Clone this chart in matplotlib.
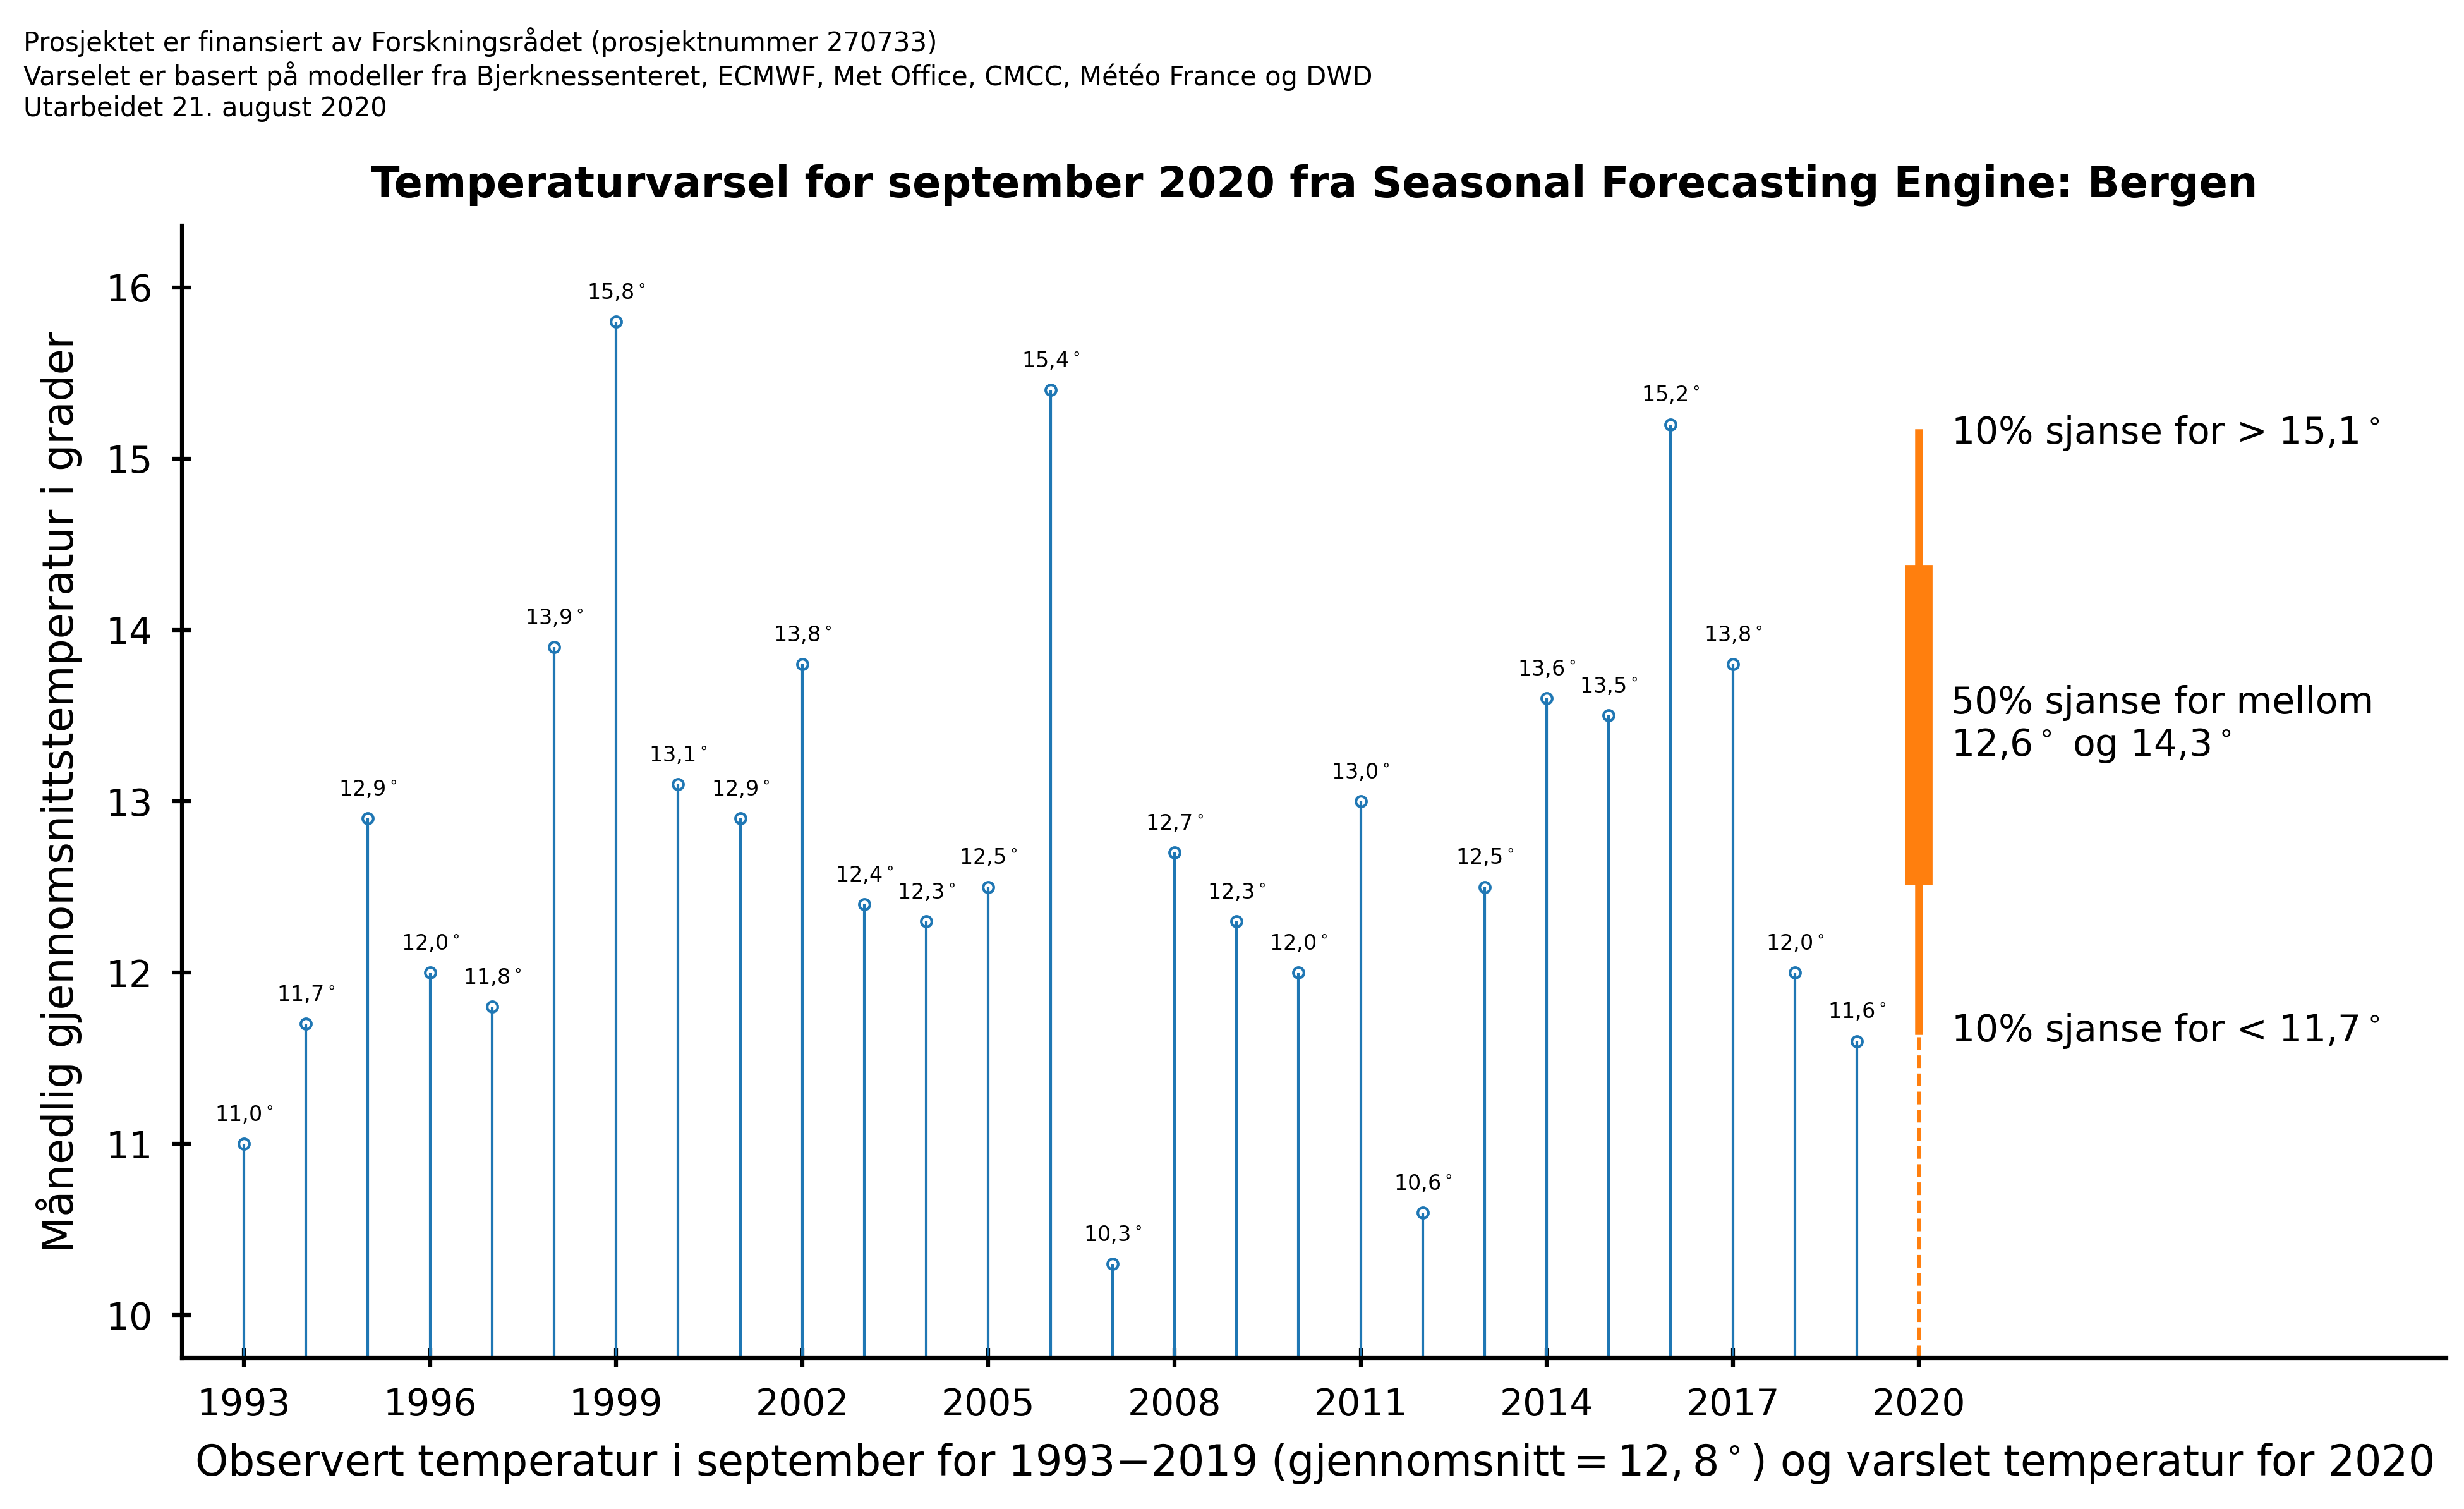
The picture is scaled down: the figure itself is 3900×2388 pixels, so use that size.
import numpy as np
import matplotlib.pyplot as plt

# Observed September temperatures, Bergen
years = [1993, 1994, 1995, 1996, 1997, 1998, 1999, 2000, 2001, 2002, 2003, 2004, 2005, 2006,
         2007, 2008, 2009, 2010, 2011, 2012, 2013, 2014, 2015, 2016, 2017, 2018, 2019]
temps = [11.0, 11.7, 12.9, 12.0, 11.8, 13.9, 15.8, 13.1, 12.9, 13.8, 12.4, 12.3, 12.5, 15.4,
         10.3, 12.7, 12.3, 12.0, 13.0, 10.6, 12.5, 13.6, 13.5, 15.2, 13.8, 12.0, 11.6]

# Forecast for 2020 (quantiles 10, 25, 75, 90 %)
fc_year = 2020
fc_q = [11.66, 12.59, 14.30, 15.15]
fc_labels = ['10% sjanse for < 11,7$^\\circ$',
             '50% sjanse for mellom\n12,6$^\\circ$ og 14,3$^\\circ$',
             '10% sjanse for > 15,1$^\\circ$']

xticks = list(range(1993, 2021, 3))
yticks = [10, 11, 12, 13, 14, 15, 16]

blue = '#1f77b4'
orange = '#ff7f0e'
ymin, ymax = 9.75, 16.36

fig = plt.figure(figsize=(13, 7.96), dpi=300)
ax = fig.add_axes([0.0738, 0.100, 0.919, 0.7505])

# Stems and points
ax.vlines(years, ymin, temps, color=blue, lw=1.0)
ax.plot(years, temps, 'o', mfc='none', mec=blue, mew=1.0, ms=4)
for yr, t in zip(years, temps):
    lab = ('%.1f' % t).replace('.', ',') + '$^\\circ$'
    ax.annotate(lab, (yr, t), xytext=(0, 7), textcoords='offset points',
                ha='center', va='bottom', fontsize=8)

# Forecast bar
ax.plot([fc_year, fc_year], [ymin, fc_q[0]], color=orange, lw=1.3, ls='--')
ax.plot([fc_year, fc_year], [fc_q[0], fc_q[3]], color=orange, lw=3)
ax.plot([fc_year, fc_year], [fc_q[1], fc_q[2]], color=orange, lw=10.5)
ax.text(fc_year + 0.52, fc_q[0], fc_labels[0], va='center', ha='left', fontsize=14)
ax.text(fc_year + 0.52, (fc_q[1] + fc_q[2]) / 2, fc_labels[1], va='center', ha='left', fontsize=14)
ax.text(fc_year + 0.52, fc_q[3], fc_labels[2], va='center', ha='left', fontsize=14)

ax.set_xlim(1992.0, 2028.5)
ax.set_ylim(ymin, ymax)
ax.set_xticks(xticks)
ax.set_yticks(yticks)
ax.tick_params(direction='inout', length=7, width=1.5, labelsize=14, pad=7.5)
for s in ['top', 'right']:
    ax.spines[s].set_visible(False)
for s in ['left', 'bottom']:
    ax.spines[s].set_linewidth(1.5)

ax.set_title('Temperaturvarsel for september 2020 fra Seasonal Forecasting Engine: Bergen',
             fontsize=16, fontweight='bold', pad=11)
ax.set_ylabel('Månedlig gjennomsnittstemperatur i grader', fontsize=16, labelpad=9)
ax.set_xlabel('Observert temperatur i september for 1993$-$2019 (gjennomsnitt$=12,8^\\circ$) '
              'og varslet temperatur for 2020', fontsize=16, labelpad=7)

fig.text(0.0094, 0.982,
         'Prosjektet er finansiert av Forskningsrådet (prosjektnummer 270733)\n'
         'Varselet er basert på modeller fra Bjerknessenteret, ECMWF, Met Office, CMCC, Météo France og DWD\n'
         'Utarbeidet 21. august 2020',
         va='top', ha='left', fontsize=10)

plt.savefig('out.png', dpi=300)
